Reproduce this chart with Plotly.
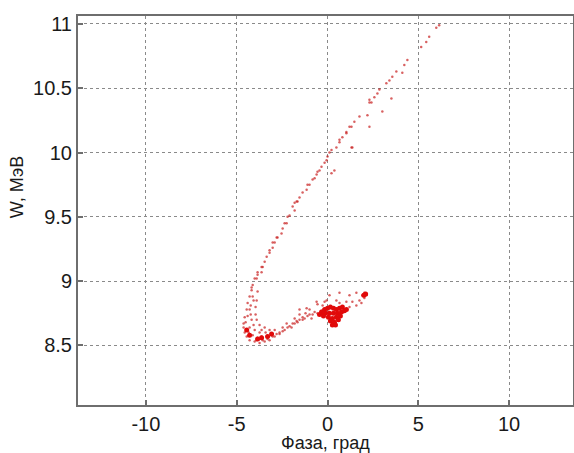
import plotly.graph_objects as go

# Sparse points (upper tail, arm, hook, band) - phase (deg), energy (MeV)
phase_sparse = [
    6.15, 5.99, 5.60, 5.44, 5.16, 4.40, 4.23, 3.79, 3.57, 3.41, 3.24, 2.86, 2.75, 2.58, 2.42, 2.31,
    3.02, 3.52, 4.12, 2.20, 1.76, 1.48,
    1.21, 1.04, 0.82, 0.66, 0.49, 1.32, 0.11, 0.00, -0.05, -0.16, -0.33, -0.44, 0.38, 0.22, -0.60,
    -0.82, -0.99, -1.15, -1.37, -1.54, -1.70, -1.81, -1.92,
    2.31, 2.31, 1.32, 1.04, 1.37, 0.66, 0.22, -0.55, -0.71, -1.10, -1.65, -1.81, -2.20, -2.36, -2.47,
    -2.80, -3.02, -3.19, -3.35, -3.63, -3.85, -4.01,
    -2.09, -2.25, -2.53, -2.75, -2.91, -3.02, -3.19, -3.46, -3.57, -3.63, -3.85, -3.90, -4.12, -4.18,
    -4.18, -4.29, -4.40, -4.45, -4.56, -4.62, -4.62, -4.56, -4.45, -4.29, -4.01, -3.74, -3.46, -3.19, -2.91, -2.64,
    -3.85, -3.90, -3.96, -3.96, -3.90, -3.74, -3.46, -3.19, -2.91,
    -4.29, -4.18, -4.29, -4.12, -3.85, -3.63, -3.30, -3.08, -4.01, -3.74, -3.41, -4.07,
    -4.51, -4.40, -4.23, -4.12, -4.34, -3.90, -3.57, -3.30, -3.02, -2.80, -3.63, -4.07, -4.23,
    -2.64, -2.36, -2.09, -1.81, -1.54, -1.26, -0.99, -0.71, -0.55, -0.33, -2.20, -1.70, -1.37, -1.10,
    -0.88, -2.47, -1.92, -1.54, -0.99, -0.55, -0.16, -1.81,
    -2.47, -1.98, -1.65, -1.37, -0.82, -2.25, -1.21,
    0.11, 0.66, 1.21, 1.59, 1.92, 2.14, 2.03, 1.76, 1.37, 1.04, 0.66, 1.59, 1.21, 1.87, 0.82, 0.49,
    -0.05, -0.27, -0.60, -1.54, -1.15, 2.03,
]
energy_sparse = [
    10.99, 10.97, 10.90, 10.86, 10.82, 10.72, 10.68, 10.63, 10.59, 10.56, 10.54, 10.49, 10.46, 10.43, 10.39, 10.39,
    10.32, 10.42, 10.62, 10.29, 10.28, 10.24,
    10.20, 10.16, 10.12, 10.08, 10.04, 10.04, 10.00, 9.97, 9.94, 9.92, 9.89, 9.86, 9.86, 9.84, 9.83,
    9.79, 9.75, 9.71, 9.69, 9.65, 9.62, 9.61, 9.58,
    10.41, 10.20, 10.20, 10.15, 10.04, 10.10, 10.02, 9.85, 9.80, 9.75, 9.62, 9.55, 9.50, 9.45, 9.41,
    9.34, 9.30, 9.24, 9.19, 9.11, 9.07, 9.02,
    9.51, 9.45, 9.37, 9.34, 9.30, 9.26, 9.22, 9.15, 9.11, 9.07, 9.05, 9.02, 8.97, 8.95,
    8.93, 8.88, 8.83, 8.78, 8.72, 8.67, 8.64, 8.60, 8.57, 8.54, 8.53, 8.52, 8.53, 8.54, 8.57, 8.59,
    8.92, 8.85, 8.80, 8.74, 8.70, 8.66, 8.64, 8.62, 8.62,
    8.78, 8.70, 8.64, 8.58, 8.56, 8.57, 8.57, 8.58, 8.62, 8.60, 8.60, 8.85,
    8.68, 8.73, 8.81, 8.88, 8.60, 8.54, 8.54, 8.55, 8.57, 8.59, 8.62, 8.66, 8.74,
    8.60, 8.62, 8.65, 8.67, 8.70, 8.71, 8.74, 8.76, 8.75, 8.77, 8.64, 8.69, 8.70, 8.73,
    8.71, 8.64, 8.67, 8.74, 8.78, 8.82, 8.84, 8.71,
    8.61, 8.64, 8.68, 8.72, 8.74, 8.67, 8.75,
    8.89, 8.91, 8.89, 8.91, 8.89, 8.89, 8.87, 8.85, 8.84, 8.84, 8.83, 8.81, 8.80, 8.83, 8.79, 8.85,
    8.85, 8.81, 8.84, 8.78, 8.79, 8.91,
]

# Dense core of the bunch and dense bottom of the hook
phase_dense = [
    -0.33, -0.16, 0.00, 0.16, 0.33, 0.49, 0.66, 0.82, -0.11, 0.11, 0.33, 0.55, 0.77, 0.05, 0.27, 0.49,
    0.71, 0.16, 0.38, 0.60, 0.27, 0.44, 0.93, 1.04, -0.22, -0.44,
    -3.85, -3.63, -3.30, -3.08, -4.29, -4.45, 2.10, 2.00,
]
energy_dense = [
    8.76, 8.78, 8.79, 8.80, 8.79, 8.78, 8.79, 8.80, 8.75, 8.75, 8.75, 8.75, 8.76, 8.72, 8.71, 8.72,
    8.73, 8.69, 8.68, 8.70, 8.66, 8.66, 8.77, 8.78, 8.73, 8.74,
    8.55, 8.56, 8.57, 8.59, 8.58, 8.62, 8.90, 8.89,
]

x_ticks = [-10, -5, 0, 5, 10]
y_ticks = [8.5, 9, 9.5, 10, 10.5, 11]
x_title = "Фаза, град"
y_title = "W, МэВ"

fig = go.Figure()
fig.add_trace(go.Scatter(
    x=phase_sparse, y=energy_sparse, mode="markers",
    marker=dict(size=2.5, color="rgba(200,30,30,0.7)", line=dict(width=0)),
    showlegend=False,
))
fig.add_trace(go.Scatter(
    x=phase_dense, y=energy_dense, mode="markers",
    marker=dict(size=5, color="rgb(225,10,10)", line=dict(width=0)),
    showlegend=False,
))

family = "Liberation Sans, Arial, sans-serif"
font = dict(family=family, size=20, color="#1a1a1a")
axis_common = dict(
    showline=True, linecolor="#6e6e6e", linewidth=2, mirror=True,
    ticks="inside", ticklen=5, tickcolor="#6e6e6e", tickwidth=1.5,
    showgrid=True, gridcolor="#8a8a8a", gridwidth=1, griddash="dot",
    zeroline=False, tickfont=font, automargin=False,
)
fig.update_xaxes(range=[-13.74, 13.52], tickvals=x_ticks, ticktext=[str(v) for v in x_ticks],
                 **axis_common)
fig.update_yaxes(range=[8.037, 11.062], tickvals=y_ticks, ticktext=["8.5", "9", "9.5", "10", "10.5", "11"],
                 **axis_common)
fig.add_annotation(text=x_title, xref="paper", yref="paper", x=0.5, y=0, yanchor="middle",
                   yshift=-38, showarrow=False, font=dict(family=family, size=18, color="#1a1a1a"))
fig.add_annotation(text=y_title, xref="paper", yref="paper", x=0, y=0.56, xanchor="center",
                   xshift=-61, textangle=-90, showarrow=False,
                   font=dict(family=family, size=18, color="#1a1a1a"))
fig.update_layout(
    width=574, height=453,
    margin=dict(l=78, r=1, t=16, b=48),
    paper_bgcolor="white", plot_bgcolor="white",
)
fig.write_html("out.html", config={"displayModeBar": False},
               post_script="document.body.style.margin='0px';document.body.style.overflow='hidden';")
